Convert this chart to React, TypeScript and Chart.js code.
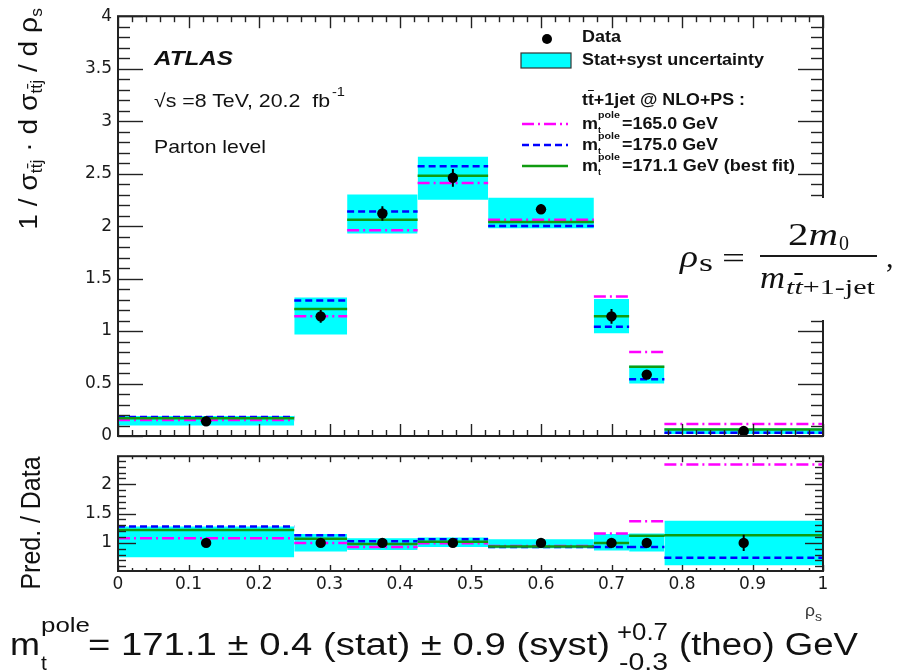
import React, { useEffect, useLayoutEffect, useRef } from 'react';
import { Chart, registerables } from 'chart.js';

Chart.register(...registerables);

// Binning of rho_s and the measured / predicted normalised cross-sections
const binEdges = [0, 0.25, 0.325, 0.425, 0.525, 0.675, 0.725, 0.775, 1.0];
const binCenters = [0.125, 0.2875, 0.375, 0.475, 0.6, 0.7, 0.75, 0.8875];

const dataValues = [0.14, 1.14, 2.12, 2.46, 2.16, 1.14, 0.585, 0.047];
const dataErrors = [0.01, 0.06, 0.07, 0.085, 0.045, 0.07, 0.035, 0.01];
const bandHigh = [0.19, 1.32, 2.3, 2.66, 2.27, 1.305, 0.67, 0.075];
const bandLow = [0.1, 0.967, 1.93, 2.25, 1.98, 0.98, 0.5, 0.02];
const pred1650 = [0.152, 1.14, 1.96, 2.41, 2.06, 1.33, 0.8, 0.114];
const pred1750 = [0.18, 1.29, 2.14, 2.57, 2.0, 1.04, 0.54, 0.031];
const pred1711 = [0.17, 1.21, 2.06, 2.48, 2.04, 1.14, 0.66, 0.063];

// Prediction / data ratios
const ratioData = [1, 1, 1, 1, 1, 1, 1, 1];
const ratioErrors = [0.04, 0.04, 0.03, 0.03, 0.02, 0.05, 0.05, 0.14];
const ratioBandHigh = [1.28, 1.15, 1.08, 1.09, 1.06, 1.15, 1.16, 1.38];
const ratioBandLow = [0.755, 0.855, 0.88, 0.93, 0.91, 0.87, 0.855, 0.62];
const ratio1650 = [1.08, 1.0, 0.93, 0.995, 0.945, 1.16, 1.37, 2.34];
const ratio1750 = [1.28, 1.13, 1.03, 1.06, 0.93, 0.93, 0.93, 0.745];
const ratio1711 = [1.22, 1.07, 0.98, 1.02, 0.94, 1.0, 1.12, 1.13];

// Axis ticks
const xTickValues = [0, 0.1, 0.2, 0.3, 0.4, 0.5, 0.6, 0.7, 0.8, 0.9, 1];
const xTickLabels = ['0', '0.1', '0.2', '0.3', '0.4', '0.5', '0.6', '0.7', '0.8', '0.9', '1'];
const mainYTicks = [0, 0.5, 1, 1.5, 2, 2.5, 3, 3.5, 4];
const mainYLabels = ['0', '0.5', '1', '1.5', '2', '2.5', '3', '3.5', '4'];
const ratioYTicks = [1, 1.5, 2];
const ratioYLabels = ['1', '1.5', '2'];

const SANS = '"Liberation Sans", Arial, Helvetica, sans-serif';
const SERIF = '"Liberation Serif", "Times New Roman", serif';
const TICK_FONT = '"DejaVu Sans", sans-serif';
const CYAN = '#00ffff';
const MAGENTA = '#ff00ff';
const BLUE = '#0000ff';
const GREEN = '#109b10';
const DASHED = [7, 4];
const DASH_DOT = [12, 4, 2, 4];

function stepSegments(values: number[]) {
  const pts: { x: number; y: number | null }[] = [];
  values.forEach((v, i) => {
    pts.push({ x: binEdges[i], y: v }, { x: binEdges[i + 1], y: v }, { x: binEdges[i + 1], y: null });
  });
  return pts;
}

function errorSegments(values: number[], errors: number[]) {
  const pts: { x: number; y: number | null }[] = [];
  values.forEach((v, i) => {
    const x = binCenters[i];
    pts.push({ x, y: v - errors[i] }, { x, y: v + errors[i] }, { x, y: null });
  });
  return pts;
}

// Frame with inward ticks on all four sides
const rootFrame = {
  id: 'rootFrame',
  afterDatasetsDraw(chart: any, _args: any, o: any) {
    const { ctx, chartArea: a } = chart;
    const xs = chart.scales.x;
    const ys = chart.scales.y;
    ctx.save();
    ctx.strokeStyle = '#222';
    ctx.lineWidth = 1.4;
    const line = (x1: number, y1: number, x2: number, y2: number) => {
      ctx.beginPath();
      ctx.moveTo(x1, y1);
      ctx.lineTo(x2, y2);
      ctx.stroke();
    };
    const isMajor = (v: number, step: number) => Math.abs(v / step - Math.round(v / step)) < 1e-6;
    const nx = Math.round((xs.max - xs.min) / o.xMinorStep);
    for (let k = 0; k <= nx; k++) {
      const v = xs.min + k * o.xMinorStep;
      const len = isMajor(v, o.xMajorStep) ? o.xMajorLen : o.xMinorLen;
      const px = Math.round(xs.getPixelForValue(v)) + 0.5;
      line(px, a.bottom, px, a.bottom - len);
      line(px, a.top, px, a.top + len);
    }
    const k0 = Math.ceil(ys.min / o.yMinorStep - 1e-6);
    const k1 = Math.floor(ys.max / o.yMinorStep + 1e-6);
    for (let k = k0; k <= k1; k++) {
      const v = k * o.yMinorStep;
      const len = isMajor(v, o.yMajorStep) ? o.yMajorLen : o.yMinorLen;
      const py = Math.round(ys.getPixelForValue(v)) + 0.5;
      line(a.left, py, a.left + len, py);
      line(a.right, py, a.right - len, py);
    }
    ctx.lineWidth = 2;
    ctx.strokeRect(a.left, a.top, a.right - a.left, a.bottom - a.top);
    ctx.restore();
  },
};

type PanelSpec = {
  values: number[];
  errors: number[];
  bandHi: number[];
  bandLo: number[];
  m165: number[];
  m175: number[];
  m171: number[];
  yMin: number;
  yMax: number;
  yTicks: number[];
  yLabels: string[];
  showX: boolean;
  padding: { top: number; right: number; bottom: number; left: number };
  frame: any;
};

function modelLine(values: number[], color: string, dash: number[], order: number) {
  return {
    data: stepSegments(values),
    borderColor: color,
    borderWidth: 2.5,
    borderDash: dash,
    pointRadius: 0,
    fill: false,
    order,
  };
}

function buildChart(canvas: HTMLCanvasElement, p: PanelSpec) {
  const datasets: any[] = [
    ...p.bandHi.map((h, i) => ({
      data: [
        { x: binEdges[i], y: h },
        { x: binEdges[i + 1], y: h },
      ],
      fill: { value: p.bandLo[i] },
      backgroundColor: CYAN,
      borderColor: 'rgba(0,0,0,0)',
      borderWidth: 0,
      pointRadius: 0,
      order: 5,
    })),
    modelLine(p.m165, MAGENTA, DASH_DOT, 4),
    modelLine(p.m175, BLUE, DASHED, 3),
    modelLine(p.m171, GREEN, [], 2),
    {
      data: errorSegments(p.values, p.errors),
      borderColor: '#000',
      borderWidth: 2,
      pointRadius: 0,
      fill: false,
      order: 1,
    },
    {
      data: binCenters.map((x, i) => ({ x, y: p.values[i] })),
      showLine: false,
      pointRadius: 5.2,
      pointBackgroundColor: '#000',
      pointBorderColor: '#000',
      pointBorderWidth: 0,
      order: 0,
    },
  ];

  return new Chart(canvas, {
    type: 'line',
    data: { datasets },
    options: {
      animation: false,
      responsive: false,
      maintainAspectRatio: false,
      events: [],
      layout: { padding: p.padding },
      plugins: {
        legend: { display: false },
        tooltip: { enabled: false },
        rootFrame: p.frame,
      } as any,
      scales: {
        x: {
          type: 'linear',
          min: 0,
          max: 1,
          display: p.showX,
          grid: { display: false, drawTicks: false },
          border: { display: false },
          afterBuildTicks: (s: any) => {
            s.ticks = xTickValues.map((v) => ({ value: v }));
          },
          afterFit: (s: any) => {
            s.height = p.showX ? 30 : 0;
          },
          ticks: {
            callback: (_v: any, i: number) => xTickLabels[i],
            font: { family: TICK_FONT, size: 17 },
            color: '#1a1a1a',
            padding: 3,
            maxRotation: 0,
            autoSkip: false,
          },
        },
        y: {
          type: 'linear',
          min: p.yMin,
          max: p.yMax,
          grid: { display: false, drawTicks: false },
          border: { display: false },
          afterBuildTicks: (s: any) => {
            s.ticks = p.yTicks.map((v) => ({ value: v }));
          },
          afterFit: (s: any) => {
            s.width = 118;
          },
          ticks: {
            callback: (_v: any, i: number) => p.yLabels[i],
            font: { family: TICK_FONT, size: 17 },
            color: '#1a1a1a',
            padding: 6,
            autoSkip: false,
          },
        },
      },
    } as any,
    plugins: [rootFrame],
  });
}

type TxtProps = {
  x: number;
  base: number;
  size: number;
  w?: number;
  bold?: boolean;
  italic?: boolean;
  serif?: boolean;
  color?: string;
  children: React.ReactNode;
};

// Absolutely placed text, stretched to a given width
function Txt({ x, base, size, w, bold, italic, serif, color = '#111', children }: TxtProps) {
  const ref = useRef<HTMLSpanElement>(null);
  useLayoutEffect(() => {
    const el = ref.current;
    if (!el || !w) return;
    el.style.transform = 'none';
    const natural = el.getBoundingClientRect().width;
    if (natural > 0) el.style.transform = `scaleX(${w / natural})`;
  }, [w]);
  return (
    <span
      ref={ref}
      style={{
        position: 'absolute',
        left: x,
        top: base - 0.85 * size,
        fontSize: size,
        lineHeight: `${size}px`,
        fontFamily: serif ? SERIF : SANS,
        fontWeight: bold ? 700 : 400,
        fontStyle: italic ? 'italic' : 'normal',
        whiteSpace: 'nowrap',
        transformOrigin: '0 0',
        color,
      }}
    >
      {children}
    </span>
  );
}

// Vertical axis title, centred on (cx, cy), fitted to a length
function VTxt({ cx, cy, len, size, thick = 1, children }: { cx: number; cy: number; len: number; size: number; thick?: number; children: React.ReactNode }) {
  const ref = useRef<HTMLDivElement>(null);
  useLayoutEffect(() => {
    const el = ref.current;
    if (!el) return;
    const k = len / el.offsetWidth;
    el.style.transform = `translate(-50%, -50%) rotate(-90deg) scale(${k}, ${thick})`;
  }, [len, thick]);
  return (
    <div
      ref={ref}
      style={{
        position: 'absolute',
        left: cx,
        top: cy,
        fontSize: size,
        lineHeight: `${size}px`,
        fontFamily: SANS,
        whiteSpace: 'nowrap',
        color: '#111',
        transform: 'translate(-50%, -50%) rotate(-90deg)',
      }}
    >
      {children}
    </div>
  );
}

const sub: React.CSSProperties = { fontSize: '0.62em', verticalAlign: '-0.32em' };
const TBar = () => <span style={{ textDecoration: 'overline' }}>t</span>;

export default function App() {
  const topRef = useRef<HTMLCanvasElement>(null);
  const botRef = useRef<HTMLCanvasElement>(null);

  useEffect(() => {
    const top = buildChart(topRef.current!, {
      values: dataValues,
      errors: dataErrors,
      bandHi: bandHigh,
      bandLo: bandLow,
      m165: pred1650,
      m175: pred1750,
      m171: pred1711,
      yMin: 0,
      yMax: 4,
      yTicks: mainYTicks,
      yLabels: mainYLabels,
      showX: false,
      padding: { top: 15, right: 77, bottom: 24, left: 0 },
      frame: { xMinorStep: 0.02, xMajorStep: 0.1, xMajorLen: 12, xMinorLen: 6, yMinorStep: 0.1, yMajorStep: 0.5, yMajorLen: 25, yMinorLen: 12 },
    });
    const bottom = buildChart(botRef.current!, {
      values: ratioData,
      errors: ratioErrors,
      bandHi: ratioBandHigh,
      bandLo: ratioBandLow,
      m165: ratio1650,
      m175: ratio1750,
      m171: ratio1711,
      yMin: 0.52,
      yMax: 2.48,
      yTicks: ratioYTicks,
      yLabels: ratioYLabels,
      showX: true,
      padding: { top: 15, right: 77, bottom: 70, left: 0 },
      frame: { xMinorStep: 0.02, xMajorStep: 0.1, xMajorLen: 6, xMinorLen: 3, yMinorStep: 0.1, yMajorStep: 0.5, yMajorLen: 18, yMinorLen: 8 },
    });
    return () => {
      top.destroy();
      bottom.destroy();
    };
  }, []);

  return (
    <div style={{ position: 'absolute', left: 0, top: 0, width: 900, height: 671, overflow: 'hidden', background: '#fff' }}>
      <canvas ref={topRef} width={900} height={460} style={{ position: 'absolute', left: 0, top: 0 }} />
      <canvas ref={botRef} width={900} height={231} style={{ position: 'absolute', left: 0, top: 440 }} />

      <svg width={900} height={671} style={{ position: 'absolute', left: 0, top: 0 }}>
        {/* legend symbols */}
        <circle cx={547} cy={39} r={5} fill="#000" />
        <rect x={521} y={53} width={50} height={15} fill={CYAN} stroke="#333" strokeWidth={1.2} />
        <line x1={522} x2={568} y1={124} y2={124} stroke={MAGENTA} strokeWidth={2.5} strokeDasharray={DASH_DOT.join(' ')} />
        <line x1={522} x2={568} y1={145} y2={145} stroke={BLUE} strokeWidth={2.5} strokeDasharray={DASHED.join(' ')} />
        <line x1={522} x2={568} y1={166} y2={166} stroke={GREEN} strokeWidth={2.5} />
        {/* observable definition */}
        <rect x={668} y={198} width={232} height={122} fill="#fff" />
        <rect x={760} y={255} width={117} height={2} fill="#1a1a1a" />
      </svg>

      {/* axis titles */}
      <VTxt cx={33} cy={119} len={222} size={23} thick={1.12}>
        1 / σ<span style={sub}>t<TBar />j</span> · d σ<span style={sub}>t<TBar />j</span> / d ρ<span style={sub}>s</span>
      </VTxt>
      <VTxt cx={31} cy={523} len={133} size={24} thick={1.15}>
        Pred. / Data
      </VTxt>
      <Txt x={805} base={616} size={17} w={10} color="#333">ρ</Txt>
      <Txt x={815} base={621} size={12} w={7} color="#333">s</Txt>

      {/* plot annotations */}
      <Txt x={154} base={65} size={21} w={79} bold italic>ATLAS</Txt>
      <Txt x={154} base={107} size={19} w={176}>√s =8 TeV, 20.2&nbsp;&nbsp;fb</Txt>
      <Txt x={332} base={96} size={12} w={13}>-1</Txt>
      <Txt x={154} base={153} size={19} w={112}>Parton level</Txt>

      {/* legend text */}
      <Txt x={582} base={43} size={16} w={39} bold>Data</Txt>
      <Txt x={582} base={66} size={16} w={182} bold>Stat+syst uncertainty</Txt>
      <Txt x={582} base={106} size={16} w={163} bold>t<TBar />+1jet @ NLO+PS :</Txt>
      <Txt x={582} base={130} size={16} w={16} bold>m</Txt>
      <Txt x={598} base={119} size={9} w={22} bold>pole</Txt>
      <Txt x={598} base={134} size={9} bold>t</Txt>
      <Txt x={622} base={130} size={16} w={96} bold>=165.0 GeV</Txt>
      <Txt x={582} base={151} size={16} w={16} bold>m</Txt>
      <Txt x={598} base={140} size={9} w={22} bold>pole</Txt>
      <Txt x={598} base={155} size={9} bold>t</Txt>
      <Txt x={622} base={151} size={16} w={96} bold>=175.0 GeV</Txt>
      <Txt x={582} base={172} size={16} w={16} bold>m</Txt>
      <Txt x={598} base={161} size={9} w={22} bold>pole</Txt>
      <Txt x={598} base={176} size={9} bold>t</Txt>
      <Txt x={622} base={172} size={16} w={173} bold>=171.1 GeV (best fit)</Txt>

      {/* rho_s definition */}
      <Txt x={680} base={267} size={32} w={18} serif italic>ρ</Txt>
      <Txt x={699} base={272} size={26} w={14} serif>s</Txt>
      <Txt x={722} base={268} size={30} w={23} serif>=</Txt>
      <Txt x={788} base={245} size={31} w={50} serif>
        2<i>m</i>
      </Txt>
      <Txt x={839} base={251} size={22} w={10} serif>0</Txt>
      <Txt x={760} base={288} size={31} w={25} serif italic>m</Txt>
      <Txt x={786} base={295} size={21} w={89} serif>
        <i>
          t<TBar />
        </i>
        +1-jet
      </Txt>
      <Txt x={886} base={267} size={30} serif>,</Txt>

      {/* fitted top-quark pole mass */}
      <Txt x={10} base={655} size={31} w={30}>m</Txt>
      <Txt x={41} base={632} size={21} w={49}>pole</Txt>
      <Txt x={41} base={670} size={21}>t</Txt>
      <Txt x={88} base={655} size={31} w={522}>= 171.1 ± 0.4 (stat) ± 0.9 (syst)</Txt>
      <Txt x={617} base={640} size={24} w={51}>+0.7</Txt>
      <Txt x={619} base={670} size={24} w={49}>-0.3</Txt>
      <Txt x={679} base={655} size={31} w={179}>(theo) GeV</Txt>
    </div>
  );
}
